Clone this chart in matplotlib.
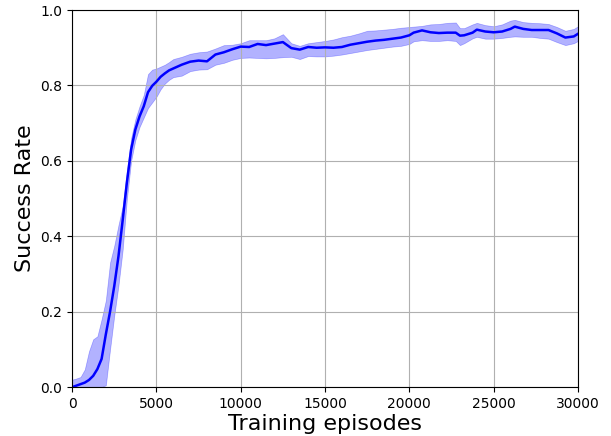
import numpy as np
import matplotlib
matplotlib.use("Agg")
import matplotlib.pyplot as plt

# Values
episodes = [
    0, 250, 500, 750, 1000, 1250, 1500, 1750, 2000, 2250, 2500, 2750, 3000,
    3250, 3500, 3750, 4000, 4250, 4500, 4750, 5000, 5250, 5500, 5750, 6000,
    6500, 7000, 7500, 8000, 8500, 9000, 9500, 10000, 10500, 11000, 11500,
    12000, 12500, 13000, 13500, 14000, 14500, 15000, 15500, 16000, 16500,
    17000, 17500, 18000, 18500, 19000, 19500, 20000, 20250, 20750, 21250,
    21750, 22250, 22750, 23000, 23250, 23750, 24000, 24500, 25000, 25500,
    26000, 26250, 26750, 27250, 27750, 28250, 28750, 29250, 29750, 30000,
]

success_mean = [
    0.0, 0.004, 0.008, 0.012, 0.019, 0.030, 0.048, 0.075, 0.140, 0.200,
    0.268, 0.347, 0.443, 0.543, 0.630, 0.683, 0.718, 0.745, 0.782, 0.799,
    0.810, 0.823, 0.832, 0.840, 0.845, 0.855, 0.863, 0.866, 0.864, 0.882,
    0.888, 0.896, 0.903, 0.902, 0.910, 0.907, 0.911, 0.915, 0.899, 0.895,
    0.902, 0.900, 0.901, 0.900, 0.902, 0.908, 0.912, 0.916, 0.919, 0.921,
    0.924, 0.927, 0.933, 0.940, 0.946, 0.941, 0.939, 0.940, 0.940, 0.932,
    0.933, 0.940, 0.948, 0.943, 0.941, 0.943, 0.950, 0.956, 0.950, 0.947,
    0.947, 0.947, 0.938, 0.927, 0.930, 0.937,
]

success_upper = [
    0.020, 0.023, 0.027, 0.047, 0.095, 0.127, 0.135, 0.180, 0.230, 0.330,
    0.375, 0.430, 0.480, 0.575, 0.660, 0.710, 0.745, 0.775, 0.830, 0.842,
    0.845, 0.850, 0.855, 0.862, 0.870, 0.876, 0.884, 0.888, 0.890, 0.898,
    0.907, 0.908, 0.912, 0.920, 0.920, 0.920, 0.925, 0.936, 0.912, 0.905,
    0.912, 0.915, 0.918, 0.922, 0.928, 0.932, 0.938, 0.945, 0.946, 0.948,
    0.950, 0.953, 0.955, 0.956, 0.958, 0.962, 0.963, 0.966, 0.967, 0.952,
    0.952, 0.962, 0.966, 0.960, 0.957, 0.962, 0.972, 0.974, 0.968, 0.966,
    0.965, 0.963, 0.955, 0.945, 0.950, 0.957,
]

success_lower = [
    0.0, 0.0, 0.0, 0.0, 0.0, 0.0, 0.0, 0.0, 0.005, 0.100,
    0.190, 0.270, 0.365, 0.500, 0.600, 0.655, 0.690, 0.715, 0.740, 0.755,
    0.770, 0.790, 0.805, 0.815, 0.822, 0.826, 0.838, 0.842, 0.843, 0.855,
    0.860, 0.868, 0.873, 0.874, 0.873, 0.872, 0.873, 0.875, 0.876, 0.870,
    0.878, 0.877, 0.877, 0.879, 0.882, 0.886, 0.890, 0.894, 0.897, 0.900,
    0.903, 0.905, 0.910, 0.917, 0.920, 0.918, 0.918, 0.920, 0.918, 0.907,
    0.912, 0.925, 0.929, 0.924, 0.924, 0.926, 0.929, 0.930, 0.929, 0.929,
    0.926, 0.924, 0.915, 0.907, 0.912, 0.918,
]

fig = plt.figure(figsize=(6.11, 4.36), dpi=100)
ax = fig.add_axes([0.118, 0.112, 0.828, 0.865])

ax.fill_between(episodes, success_lower, success_upper, color="blue", alpha=0.3, linewidth=0.5)
ax.plot(episodes, success_mean, color="blue", linewidth=1.8)

ax.set_xlim(0, 30000)
ax.set_ylim(0, 1.0)
ax.set_xticks(np.arange(0, 30001, 5000))
ax.set_yticks(np.arange(0, 1.01, 0.2))
ax.tick_params(labelsize=10)
ax.grid(True, color="#b0b0b0", linewidth=0.8)
ax.set_xlabel("Training episodes", fontsize=16, labelpad=2)
ax.set_ylabel("Success Rate", fontsize=16)

fig.savefig("out.png", dpi=100)
